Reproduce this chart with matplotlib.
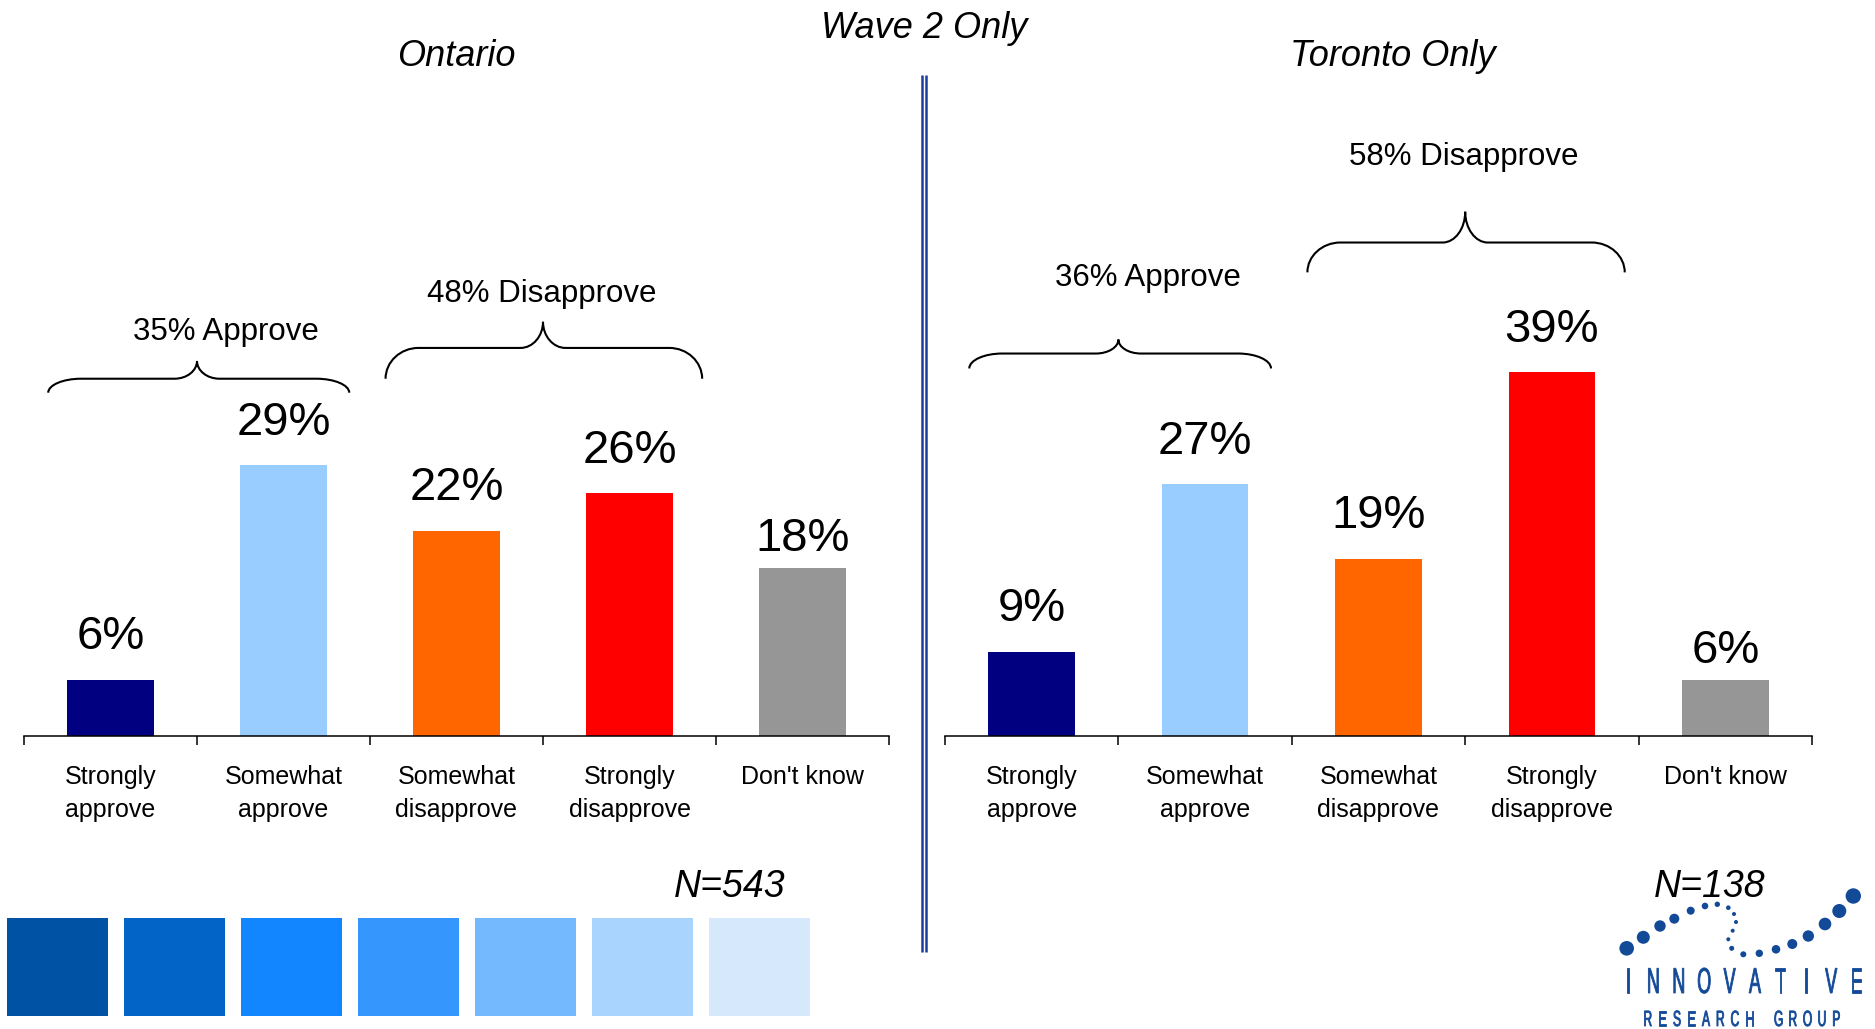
import matplotlib
matplotlib.use('Agg')
import matplotlib.pyplot as plt
from matplotlib.path import Path
from matplotlib.patches import PathPatch, Rectangle, Circle
from matplotlib.textpath import TextPath
from matplotlib.font_manager import FontProperties
from matplotlib.transforms import Affine2D

plt.rcParams['font.family'] = ['Liberation Sans', 'DejaVu Sans']

# data
categories = ['Strongly\napprove', 'Somewhat\napprove', 'Somewhat\ndisapprove',
              'Strongly\ndisapprove', "Don't know"]
ontario = [6, 29, 22, 26, 18]
toronto = [9, 27, 19, 39, 6]
ontario_groups = [('35% Approve', 0, 1), ('48% Disapprove', 2, 3)]
toronto_groups = [('36% Approve', 0, 1), ('58% Disapprove', 2, 3)]
ontario_n = 543
toronto_n = 138

# style / layout
bar_colors = ['#000080', '#99CCFF', '#FF6600', '#FF0000', '#969696']
label_offsets = [22, 22, 22, 22, 12]  # points above bar top (baseline)
ontario_brace_y = [(36.8, 38.3, 40.2, 43.3), (38.3, 41.6, 44.4, 47.4)]
toronto_brace_y = [(39.4, 41.0, 42.5, 49.1), (49.7, 52.9, 56.2, 62.1)]
brace_pad = [(0.36, 0.38, 0.17), (0.41, 0.42, -0.01)]  # left, right, label shift
square_colors = ['#0053A4', '#0264C7', '#1186FF', '#3596FE', '#74B8FD', '#A9D4FD', '#D5E8FC']
logo_color = '#134A98'

W, H = 1875, 1029
BASE = 736

fig = plt.figure(figsize=(W / 100, H / 100), dpi=100)


def brace(ax, x0, x1, yb, yh, yt, xm, rc=0.19, rt=0.13):
    verts = [(x0, yb),
             (x0, yb + 0.55 * (yh - yb)), (x0 + 0.45 * rc, yh), (x0 + rc, yh),
             (xm - rt, yh),
             (xm - 0.45 * rt, yh), (xm, yh + 0.45 * (yt - yh)), (xm, yt),
             (xm, yh + 0.45 * (yt - yh)), (xm + 0.45 * rt, yh), (xm + rt, yh),
             (x1 - rc, yh),
             (x1 - 0.45 * rc, yh), (x1, yb + 0.55 * (yh - yb)), (x1, yb)]
    codes = [Path.MOVETO] + [Path.CURVE4] * 3 + [Path.LINETO] + [Path.CURVE4] * 6 + \
            [Path.LINETO] + [Path.CURVE4] * 3
    ax.add_patch(PathPatch(Path(verts, codes), fill=False, lw=1.5, color='black',
                           clip_on=False))


def panel(left, right, values, groups, brace_y):
    ax = fig.add_axes([left / W, (H - BASE) / H, (right - left) / W, 653 / H])
    x = list(range(len(values)))
    ax.bar(x, values, width=0.5, color=bar_colors)
    for xi, v, off in zip(x, values, label_offsets):
        ax.annotate(f'{v}%', (xi, v), xytext=(0, off), textcoords='offset points',
                    ha='center', va='baseline', fontsize=34)
    for (label, i0, i1), (yb, yh, yt, ly), (pl, pr, dx) in zip(groups, brace_y, brace_pad):
        xm = (i0 + i1) / 2
        brace(ax, i0 - pl, i1 + pr, yb, yh, yt, xm)
        ax.text(xm + dx, ly, label, ha='center', va='center', fontsize=22.5)
    ax.set_xlim(-0.5, len(values) - 0.5)
    ax.set_ylim(0, 70)
    for s in ['top', 'left', 'right']:
        ax.spines[s].set_visible(False)
    ax.spines['bottom'].set_linewidth(1.1)
    ax.set_yticks([])
    ax.set_xticks(x)
    ax.set_xticklabels(categories, fontsize=18, linespacing=1.45)
    ax.set_xticks([i - 0.5 for i in range(len(values) + 1)], minor=True)
    ax.tick_params(axis='x', which='major', length=0, pad=21)
    ax.tick_params(axis='x', which='minor', length=6.5, width=1.1, direction='out')
    return ax


panel(24, 889, ontario, ontario_groups, ontario_brace_y)
panel(945, 1812, toronto, toronto_groups, toronto_brace_y)


def ftext(x, y, s, **kw):
    fig.text(x / W, 1 - y / H, s, ha='center', va='center', **kw)


ftext(924, 28, 'Wave 2 Only', fontsize=26, style='italic')
ftext(456, 56, 'Ontario', fontsize=26, style='italic')
ftext(1393, 56, 'Toronto Only', fontsize=26, style='italic')
ftext(730, 887, f'N={ontario_n}', fontsize=27, style='italic')
ftext(1710, 887, f'N={toronto_n}', fontsize=27, style='italic')

# decoration overlay in pixel coordinates
ov = fig.add_axes([0, 0, 1, 1])
ov.set_xlim(0, W)
ov.set_ylim(H, 0)
ov.axis('off')

# double divider line
for xl in [921.5, 926]:
    ov.plot([xl, xl], [75, 952], color='#1A3DA0', lw=1.8, solid_capstyle='butt')

# colour squares bottom-left
for i, c in enumerate(square_colors):
    ov.add_patch(Rectangle((7 + i * 117, 918), 101, 98, color=c, lw=0))

# logo
logo_dots = [(1626.7, 948.3, 7.3), (1643.3, 937.3, 6.5), (1660, 926, 5.7),
             (1674.3, 918.7, 5), (1690.7, 910.7, 4), (1705, 906, 3.3),
             (1717.3, 904.3, 2.7), (1728.3, 907.7, 2.3), (1734, 914, 2),
             (1736, 922, 2), (1732.7, 930.7, 2), (1728.3, 939.3, 2),
             (1731.7, 948.3, 2.5), (1743.3, 954.3, 3), (1759.3, 953.3, 3.7),
             (1776, 949.3, 4.3), (1792.3, 944, 5), (1808.3, 936, 5.7),
             (1825, 924, 6.3), (1839.3, 911, 7), (1853.3, 896, 7.7)]
for dx, dy, r in logo_dots:
    ov.add_patch(Circle((dx, dy), r, color=logo_color, lw=0))


def glyph_row(text, x_first, step, y_base, size, sx):
    fp = FontProperties(family='Liberation Sans')
    for i, ch in enumerate(text):
        if ch == ' ':
            continue
        tp = TextPath((0, 0), ch, size=size, prop=fp)
        bb = tp.get_extents()
        tr = Affine2D().translate(-(bb.x0 + bb.x1) / 2, 0).scale(sx, -1) \
            .translate(x_first + i * step, y_base)
        ov.add_patch(PathPatch(tr.transform_path(tp), color=logo_color, lw=0.6))


glyph_row('INNOVATIVE', 1628, 25.4, 993, 36, 0.5)
glyph_row('RESEARCH GROUP', 1648, 14.5, 1026, 22, 0.55)

fig.savefig('out.png', dpi=100)
